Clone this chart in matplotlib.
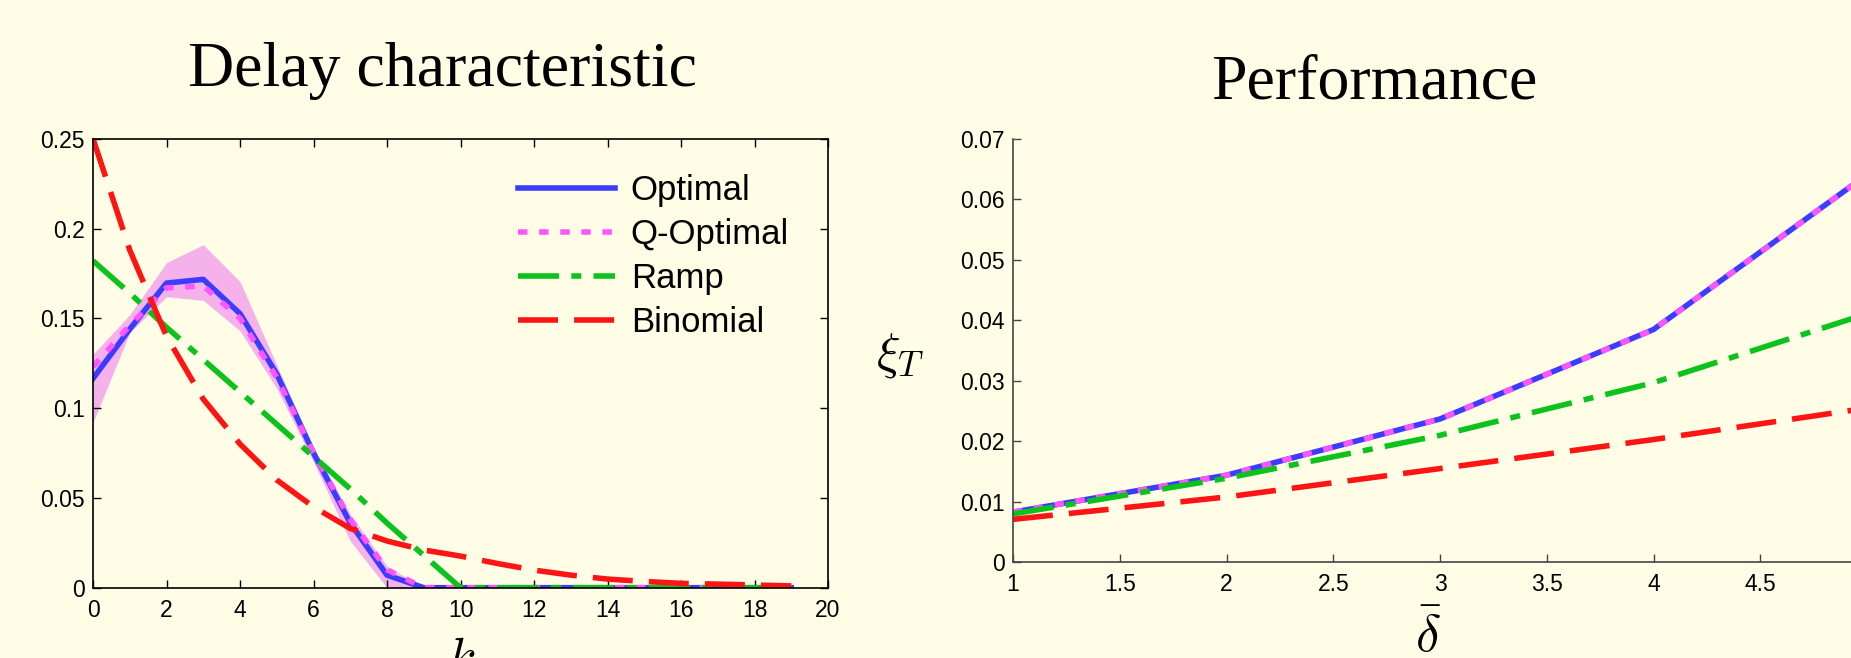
import numpy as np
import matplotlib.pyplot as plt

# left panel: delay characteristic
k = np.arange(20)
optimal = [0.1165, 0.144, 0.1696, 0.1717, 0.1526, 0.119, 0.075, 0.036, 0.007, 0.0,
           0, 0, 0, 0, 0, 0, 0, 0, 0, 0]
q_optimal = [0.123, 0.146, 0.167, 0.168, 0.150, 0.117, 0.075, 0.038, 0.010, 0.0,
             0, 0, 0, 0, 0, 0, 0, 0, 0, 0]
q_upper = [0.130, 0.152, 0.181, 0.191, 0.1705, 0.124, 0.078, 0.041, 0.012, 0.0,
           0, 0, 0, 0, 0, 0, 0, 0, 0, 0]
q_lower = [0.092, 0.142, 0.162, 0.160, 0.143, 0.111, 0.070, 0.026, 0.0, 0.0,
           0, 0, 0, 0, 0, 0, 0, 0, 0, 0]
ramp = [0.182, 0.164, 0.145, 0.127, 0.109, 0.091, 0.073, 0.055, 0.036, 0.018,
        0, 0, 0, 0, 0, 0, 0, 0, 0, 0]
binomial = [0.25, 0.188, 0.140, 0.105, 0.080, 0.060, 0.045, 0.033, 0.026, 0.021,
            0.0176, 0.0135, 0.0098, 0.007, 0.0048, 0.0035, 0.0024, 0.002, 0.0015, 0.001]

# right panel: performance
delta = [1, 2, 3, 4, 5]
perf_optimal = [0.0083, 0.0144, 0.0237, 0.0385, 0.0641]
perf_q_optimal = [0.0083, 0.0144, 0.0237, 0.0385, 0.0641]
perf_ramp = [0.0080, 0.0139, 0.0210, 0.0297, 0.0411]
perf_binomial = [0.0071, 0.0108, 0.0155, 0.0203, 0.0255]

labels = ['Optimal', 'Q-Optimal', 'Ramp', 'Binomial']

bg = '#fffde6'
c_blue = '#3c3cff'
c_mag = '#ff55ff'
c_green = '#0cc21c'
c_red = '#ff1414'
c_fill = '#f5b2ea'
lw = 4.0

W, H = 1851, 658
fig = plt.figure(figsize=(W / 100, H / 100), dpi=100, facecolor=bg)
plt.rcParams['font.family'] = ['Liberation Sans', 'DejaVu Sans']
plt.rcParams['mathtext.fontset'] = 'cm'


def styles():
    return [dict(color=c_blue, lw=lw, ls='-'),
            dict(color=c_mag, lw=lw, ls=(0, (1.7, 2.1))),
            dict(color=c_green, lw=lw, ls=(0, (7.4, 2.2, 1.8, 2.2))),
            dict(color=c_red, lw=lw, ls=(0, (7.2, 2.9)))]


# ---- left axes
ax1 = fig.add_axes([93 / W, 1 - 587.7 / H, 735 / W, 449 / H], facecolor=bg)
ax1.fill_between(k, q_lower, q_upper, color=c_fill, lw=0, zorder=1)
st = styles()
for y, s, lab in zip([optimal, q_optimal, ramp, binomial], st, labels):
    ax1.plot(k, y, label=lab, zorder=2, **s)
ax1.set_xlim(0, 20)
ax1.set_ylim(0, 0.25)
ax1.set_xticks(range(0, 21, 2))
ax1.set_yticks([0, 0.05, 0.1, 0.15, 0.2, 0.25])
ax1.set_yticklabels(['0', '0.05', '0.1', '0.15', '0.2', '0.25'])
ax1.tick_params(direction='in', length=6, width=1, labelsize=16.5, top=True, right=True)
ax1.tick_params(axis='x', pad=8)
ax1.tick_params(axis='y', pad=6)
for sp in ax1.spines.values():
    sp.set_linewidth(1.2)
leg = ax1.legend(loc='upper left', bbox_to_anchor=(518 / W, 1 - 174 / H),
                 bbox_transform=fig.transFigure, frameon=False, fontsize=25,
                 handlelength=2.8, handletextpad=0.45, labelspacing=0.32,
                 borderpad=0, borderaxespad=0)

# ---- right axes (runs past the right edge of the figure)
ax2 = fig.add_axes([1013 / W, 1 - 562.3 / H, 854 / W, 423.3 / H], facecolor=bg)
st = styles()
for y, s in zip([perf_optimal, perf_q_optimal, perf_ramp, perf_binomial], st):
    ax2.plot(delta, y, **s)
ax2.set_xlim(1, 5)
ax2.set_ylim(0, 0.07)
ax2.set_xticks([1, 1.5, 2, 2.5, 3, 3.5, 4, 4.5])
ax2.set_xticklabels(['1', '1.5', '2', '2.5', '3', '3.5', '4', '4.5'])
ax2.set_yticks([0, 0.01, 0.02, 0.03, 0.04, 0.05, 0.06, 0.07])
ax2.set_yticklabels(['0', '0.01', '0.02', '0.03', '0.04', '0.05', '0.06', '0.07'])
ax2.tick_params(direction='in', length=6, width=1, labelsize=16.5, color='#444444')
ax2.tick_params(axis='x', pad=8)
ax2.tick_params(axis='y', pad=6)
ax2.spines['top'].set_visible(False)
ax2.spines['right'].set_visible(False)
for sp in ['left', 'bottom']:
    ax2.spines[sp].set_color('#444444')
    ax2.spines[sp].set_linewidth(1.2)

# titles and axis labels
fig.text(442 / W, 1 - 86 / H, 'Delay characteristic', family='Liberation Serif',
         fontsize=46, ha='center', va='baseline')
fig.text(1374 / W, 1 - 98.6 / H, 'Performance', family='Liberation Serif',
         fontsize=46, ha='center', va='baseline')
fig.text(900 / W, 1 - 356 / H, r'$\xi_T$', fontsize=36, ha='center', va='center')
fig.text(462 / W, 1 - 672 / H, r'$k$', fontsize=36, ha='center', va='baseline')
fig.text(1428 / W, 1 - 652 / H, r'$\bar{\delta}$', fontsize=38, ha='center', va='baseline')

fig.savefig('out.png', dpi=100, facecolor=bg)
